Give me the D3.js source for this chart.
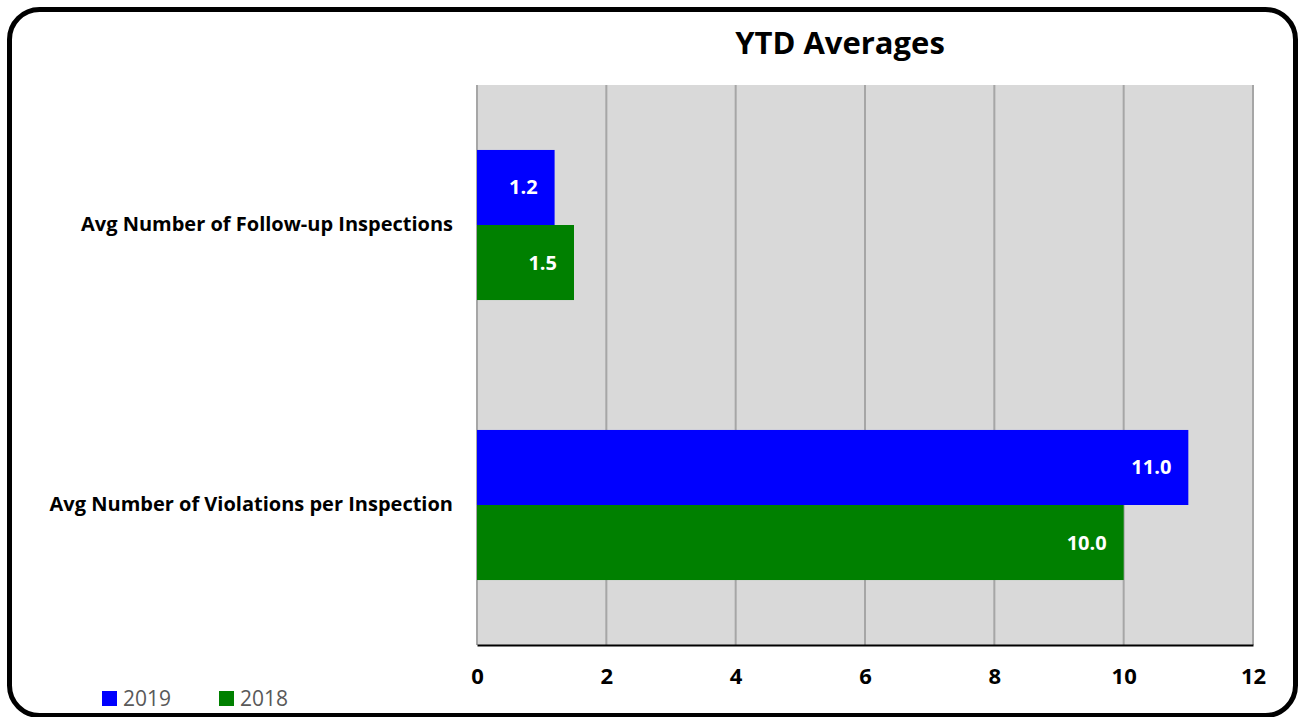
<!DOCTYPE html>
<html>
<head>
<meta charset="utf-8">
<script src="https://cdn.jsdelivr.net/npm/d3@7"></script>
<style>
  html, body { margin: 0; padding: 0; background: #fff; }
  svg { display: block; font-family: "Open Sans", Lato, sans-serif; }
</style>
</head>
<body>
<svg id="chart" width="1299" height="717"></svg>
<script>
const categories = ["Avg Number of Follow-up Inspections", "Avg Number of Violations per Inspection"];
const seriesNames = ["2019", "2018"];
const values2019 = [1.2, 11.0];
const values2018 = [1.5, 10.0];
const tickValues = [0, 2, 4, 6, 8, 10, 12];
const colors = {"2019": "#0000ff", "2018": "#008000"};
const title = "YTD Averages";

const svg = d3.select("#chart");

// Frame
svg.append("rect")
  .attr("x", 9.5).attr("y", 9.5)
  .attr("width", 1286).attr("height", 706)
  .attr("rx", 30).attr("ry", 30)
  .attr("fill", "#fff").attr("stroke", "#000").attr("stroke-width", 5);

const plot = {left: 477, right: 1253, top: 85, bottom: 645};

const x = d3.scaleLinear().domain([0, 12]).range([plot.left, plot.right]);
const y0 = d3.scaleBand().domain(categories).range([plot.top, plot.bottom]).paddingInner(0.464).paddingOuter(0.232);
const y1 = d3.scaleBand().domain(seriesNames).range([0, y0.bandwidth()]);

// Plot background
svg.append("rect")
  .attr("x", plot.left).attr("y", plot.top)
  .attr("width", plot.right - plot.left).attr("height", plot.bottom - plot.top)
  .attr("fill", "#d9d9d9");

// Gridlines
svg.append("g").selectAll("line").data(tickValues).join("line")
  .attr("x1", d => x(d)).attr("x2", d => x(d))
  .attr("y1", plot.top).attr("y2", plot.bottom)
  .attr("stroke", "#a6a6a6").attr("stroke-width", 2);

// Bars
const data = [];
categories.forEach((c, i) => {
  data.push({cat: c, series: "2019", value: values2019[i]});
  data.push({cat: c, series: "2018", value: values2018[i]});
});

const bars = svg.append("g");
bars.selectAll("rect").data(data).join("rect")
  .attr("x", x(0))
  .attr("y", d => y0(d.cat) + y1(d.series))
  .attr("width", d => x(d.value) - x(0))
  .attr("height", y1.bandwidth())
  .attr("fill", d => colors[d.series]);

bars.selectAll("text").data(data).join("text")
  .attr("x", d => x(d.value) - 17)
  .attr("y", d => y0(d.cat) + y1(d.series) + y1.bandwidth() / 2)
  .attr("dy", "0.35em")
  .attr("text-anchor", "end")
  .attr("fill", "#fff")
  .attr("font-weight", "bold")
  .attr("font-size", 20)
  .text(d => d.value.toFixed(1));

// X axis
const xAxis = d3.axisBottom(x).tickValues(tickValues).tickSize(0).tickPadding(23);
const gx = svg.append("g").attr("transform", `translate(0,${plot.bottom})`).call(xAxis);
gx.select(".domain").attr("stroke", "#000").attr("stroke-width", 2);
gx.selectAll("text").attr("font-size", 22).attr("font-weight", "bold").attr("fill", "#000")
  .attr("font-family", "'Open Sans', sans-serif");

// Y axis labels
const yAxis = d3.axisLeft(y0).tickSize(0).tickPadding(24);
const gy = svg.append("g").attr("transform", `translate(${plot.left},0)`).call(yAxis);
gy.select(".domain").remove();
gy.selectAll("text").attr("font-size", 20).attr("font-weight", "bold").attr("fill", "#000")
  .attr("font-family", "'Open Sans', sans-serif");

// Title
svg.append("text")
  .attr("x", 840).attr("y", 54)
  .attr("text-anchor", "middle")
  .attr("font-size", 31).attr("font-weight", "bold")
  .text(title);

// Legend
const legendX = [102, 219];
const lg = svg.append("g");
seriesNames.forEach((s, i) => {
  lg.append("rect").attr("x", legendX[i]).attr("y", 691).attr("width", 15).attr("height", 15)
    .attr("fill", colors[s]);
  lg.append("text").attr("x", legendX[i] + 21).attr("y", 698.5).attr("dy", "0.35em")
    .attr("font-size", 21).attr("fill", "#595959").text(s);
});
</script>
</body>
</html>
